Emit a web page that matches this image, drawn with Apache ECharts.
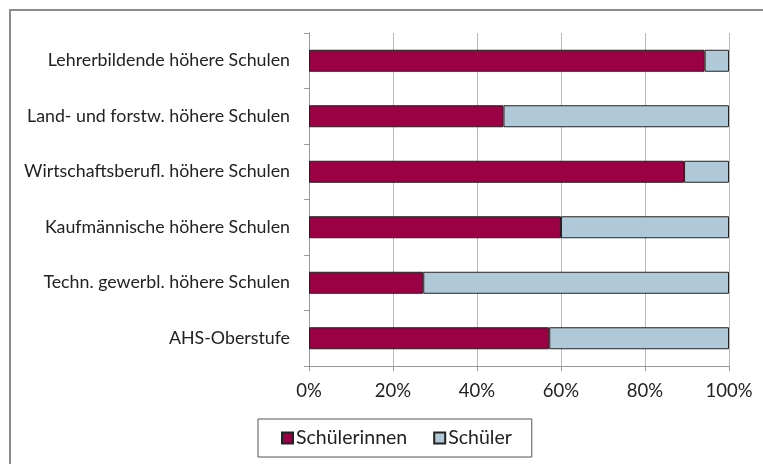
<!DOCTYPE html>
<html>
<head>
<meta charset="utf-8">
<script src="https://cdn.jsdelivr.net/npm/echarts@6/dist/echarts.min.js"></script>
<style>
	html, body { margin: 0; padding: 0; background: #fff; }
	#chart { width: 763px; height: 464px; }
</style>
</head>
<body>
<div id="chart"></div>
<script>
// Schulformen, von oben nach unten
var schulen = [
	'Lehrerbildende höhere Schulen',
	'Land- und forstw. höhere Schulen',
	'Wirtschaftsberufl. höhere Schulen',
	'Kaufmännische höhere Schulen',
	'Techn. gewerbl. höhere Schulen',
	'AHS-Oberstufe'
];
// Anteile in %
var schuelerinnen = [94.2, 46.3, 89.3, 60.0, 27.2, 57.2];
var schueler = [5.8, 53.7, 10.7, 40.0, 72.8, 42.8];
var xTicks = [0, 20, 40, 60, 80, 100];

var font = 'Lato, "Open Sans", sans-serif';
var chart = echarts.init(document.getElementById('chart'));

chart.setOption({
	animation: false,
	textStyle: { fontFamily: font },
	graphic: [
		{
			type: 'rect',
			shape: { x: 10, y: 10, width: 800, height: 500 },
			style: { fill: 'none', stroke: '#8c8c8c', lineWidth: 2 },
			silent: true
		}
	],
	grid: { left: 309, right: 34, top: 33, bottom: 98, containLabel: false },
	legend: {
		left: 258,
		top: 419,
		padding: [9, 20, 9, 23],
		borderColor: '#555',
		borderWidth: 1,
		itemWidth: 11,
		itemHeight: 11,
		itemGap: 26,
		icon: 'rect',
		textStyle: { fontSize: 19.5, color: '#222', fontFamily: font, padding: [0, 0, 0, -2] },
		data: ['Schülerinnen', 'Schüler']
	},
	xAxis: {
		type: 'value',
		min: xTicks[0],
		max: xTicks[xTicks.length - 1],
		interval: 20,
		axisLabel: { formatter: '{value}%', fontSize: 18.5, color: '#222', margin: 16 },
		axisLine: { show: true, lineStyle: { color: '#9a9a9a' } },
		axisTick: { show: true, length: 5, lineStyle: { color: '#9a9a9a' } },
		splitLine: { show: true, lineStyle: { color: '#b8b8b8' } }
	},
	yAxis: {
		type: 'category',
		inverse: true,
		data: schulen,
		axisLabel: { fontSize: 17.8, color: '#222', margin: 19 },
		axisLine: { show: true, lineStyle: { color: '#9a9a9a' } },
		axisTick: { show: true, length: 5, lineStyle: { color: '#9a9a9a' } },
		splitLine: { show: false }
	},
	series: [
		{
			name: 'Schülerinnen',
			type: 'bar',
			stack: 'gesamt',
			barWidth: 22,
			data: schuelerinnen,
			itemStyle: { color: '#9b0044', borderColor: '#222', borderWidth: 1 }
		},
		{
			name: 'Schüler',
			type: 'bar',
			stack: 'gesamt',
			barWidth: 22,
			data: schueler,
			itemStyle: { color: '#b0c9d8', borderColor: '#222', borderWidth: 1 }
		}
	]
});
</script>
</body>
</html>
